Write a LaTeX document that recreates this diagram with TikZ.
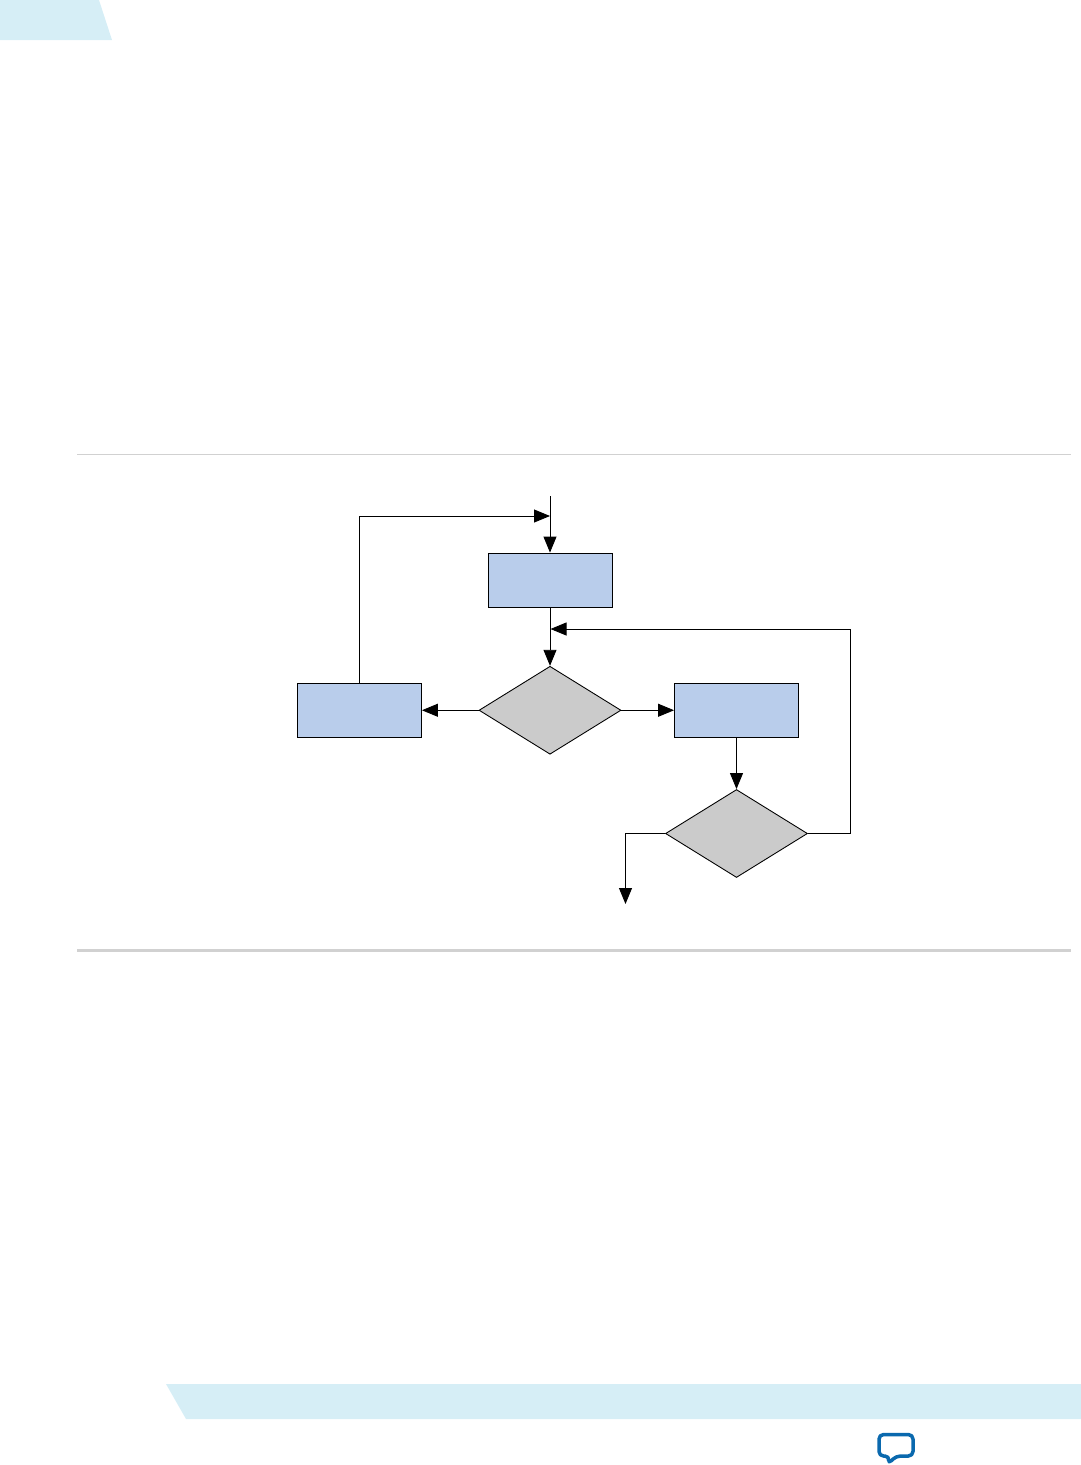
\documentclass[tikz,border=0pt]{standalone}
\usepackage{xcolor}
\usetikzlibrary{arrows.meta,shapes.geometric}
\definecolor{tabblue}{HTML}{D6EEF6}
\definecolor{boxblue}{HTML}{B9CDEB}
\definecolor{decgray}{HTML}{CBCBCB}
\definecolor{iconblue}{HTML}{0A69AE}
\begin{document}
\begin{tikzpicture}[x=0.02cm,y=-0.02cm,
    procbox/.style={draw=black,line width=0.5pt,fill=boxblue,minimum width=2.48cm,minimum height=1.08cm,inner sep=0pt},
    decbox/.style={draw=black,line width=0.5pt,fill=decgray,diamond,minimum width=2.84cm,minimum height=1.76cm,inner sep=0pt},
    flow/.style={draw=black,line width=0.5pt,-{Triangle[length=0.32cm,width=0.26cm]}}]
  \useasboundingbox (0,0) rectangle (1081,1465);
  % page furniture
  \fill[tabblue] (0,0) -- (99,0) -- (112,40) -- (0,40) -- cycle;
  \fill[tabblue] (166,1384) -- (1081,1384) -- (1081,1419) -- (186,1419) -- cycle;
  \draw[black!18,line width=0.6pt] (77,454.5) -- (1071,454.5);
  \draw[black!18,line width=2.2pt] (77,950.5) -- (1071,950.5);
  \draw[iconblue,line width=2pt,line join=round,rounded corners=2.6pt]
    (879,1434.5) -- (913,1434.5) -- (913,1456) -- (896,1456) -- (888,1464) -- (889.5,1456) -- (879,1456) -- cycle;
  % flow boxes
  \node[procbox] (entry) at (550,580) {};
  \node[procbox] (leftstep) at (359.5,710.25) {};
  \node[procbox] (rightstep) at (736.5,710.25) {};
  \node[decbox] (firstdec) at (550,710.25) {};
  \node[decbox] (seconddec) at (736.5,833.5) {};
  % free ends and joins
  \coordinate (start) at (550,496);
  \coordinate (topjoin) at (550,516);
  \coordinate (midjoin) at (550.5,629);
  \coordinate (backcorner) at (850,629);
  \coordinate (exitend) at (625.5,904);
  % connectors
  \draw[flow] (start) -- (entry.north);
  \draw[flow] (leftstep.north) |- (topjoin);
  \draw[flow] (entry.south) -- (firstdec.north);
  \draw[flow] (firstdec.west) -- (leftstep.east);
  \draw[flow] (firstdec.east) -- (rightstep.west);
  \draw[flow] (rightstep.south) -- (seconddec.north);
  \draw[flow] (seconddec.east) -| (backcorner) -- (midjoin);
  \draw[flow] (seconddec.west) -| (exitend);
\end{tikzpicture}
\end{document}
